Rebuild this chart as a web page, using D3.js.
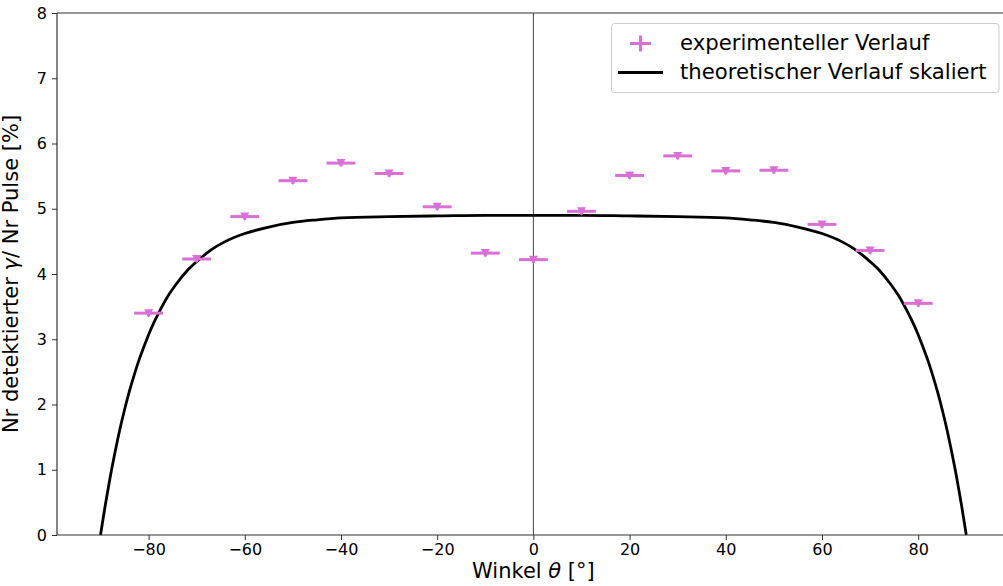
<!DOCTYPE html>
<html>
<head>
<meta charset="utf-8">
<script src="https://cdn.jsdelivr.net/npm/d3@7"></script>
<style>
  html, body { margin: 0; padding: 0; background: #fff; }
  svg { display: block; font-family: "DejaVu Sans", sans-serif; }
</style>
</head>
<body>
<svg id="chart" width="1003" height="586"></svg>
<script>
// Measured angles (degrees) and detection ratio (%)
const angles = [-80, -70, -60, -50, -40, -30, -20, -10, 0, 10, 20, 30, 40, 50, 60, 70, 80];
const ratios = [3.40, 4.23, 4.88, 5.43, 5.70, 5.54, 5.03, 4.32, 4.22, 4.96, 5.51, 5.81, 5.58, 5.59, 4.76, 4.36, 3.55];
const angleErr = [3, 3, 3, 3, 3, 3, 3, 3, 3, 3, 3, 3, 3, 3, 3, 3, 3];
const ratioErr = [0.05, 0.05, 0.05, 0.05, 0.05, 0.05, 0.05, 0.05, 0.05, 0.05, 0.05, 0.05, 0.05, 0.05, 0.05, 0.05, 0.05];

// Scaled theoretical curve, sampled along the angle axis
const curveAngles = [-90, -89, -88, -87, -86, -85, -84, -83, -82, -81, -80, -79, -78, -76, -74, -72, -70, -67, -64, -60, -55, -50, -45, -40, -30, -20, -10, 0,
                     10, 20, 30, 40, 45, 50, 55, 60, 64, 67, 70, 72, 74, 76, 78, 79, 80, 81, 82, 83, 84, 85, 86, 87, 88, 89, 90];
const curveValues = [0, 0.46, 0.88, 1.26, 1.61, 1.92, 2.20, 2.45, 2.68, 2.88, 3.07, 3.24, 3.39, 3.66, 3.87, 4.05, 4.19, 4.37, 4.50, 4.62, 4.72, 4.79, 4.83, 4.86, 4.88, 4.89, 4.90, 4.90,
                     4.90, 4.89, 4.88, 4.86, 4.83, 4.79, 4.72, 4.62, 4.50, 4.37, 4.19, 4.05, 3.87, 3.66, 3.39, 3.24, 3.07, 2.88, 2.68, 2.45, 2.20, 1.92, 1.61, 1.26, 0.88, 0.46, 0];

const xTicks = [-80, -60, -40, -20, 0, 20, 40, 60, 80];
const yTicks = [0, 1, 2, 3, 4, 5, 6, 7, 8];

const legendLabels = ["experimenteller Verlauf", "theoretischer Verlauf skaliert"];

const color = "orchid";
const plotLeft = 57, plotTop = 13, plotBottom = 535;

const svg = d3.select("#chart");
const x = d3.scaleLinear().domain([-99, 99]).range([plotLeft + 0.2, plotLeft + 0.2 + 198 * 4.81]);
const y = d3.scaleLinear().domain([0, 8]).range([plotBottom, plotTop]);

// zero line
svg.append("line")
  .attr("x1", x(0)).attr("x2", x(0))
  .attr("y1", y(8)).attr("y2", y(0))
  .attr("stroke", "#444").attr("stroke-width", 1);

// theoretical curve
const line = d3.line()
  .x((d, i) => x(curveAngles[i]))
  .y(d => y(d))
  .curve(d3.curveMonotoneX);
svg.append("path")
  .datum(curveValues)
  .attr("d", line)
  .attr("fill", "none")
  .attr("stroke", "#000")
  .attr("stroke-width", 2.8)
  .attr("stroke-linejoin", "round");

// experimental points with error bars
const pts = svg.append("g");
angles.forEach((a, i) => {
  const g = pts.append("g");
  g.append("line")
    .attr("x1", x(a - angleErr[i])).attr("x2", x(a + angleErr[i]))
    .attr("y1", y(ratios[i])).attr("y2", y(ratios[i]))
    .attr("stroke", color).attr("stroke-width", 3);
  g.append("line")
    .attr("x1", x(a)).attr("x2", x(a))
    .attr("y1", y(ratios[i] - ratioErr[i])).attr("y2", y(ratios[i] + ratioErr[i]))
    .attr("stroke", color).attr("stroke-width", 3);
  const cx = x(a), cy = y(ratios[i]);
  g.append("path")
    .attr("d", `M${cx - 4.5},${cy - 4} L${cx + 4.5},${cy - 4} L${cx},${cy + 4.5} Z`)
    .attr("fill", color);
});

// axes
const xAxis = d3.axisBottom(x).tickValues(xTicks).tickSize(5).tickPadding(4);
const yAxis = d3.axisLeft(y).tickValues(yTicks).tickSize(5).tickPadding(5);

const gx = svg.append("g").attr("transform", `translate(0,${plotBottom})`).call(xAxis);
const gy = svg.append("g").attr("transform", `translate(${plotLeft},0)`).call(yAxis);
[gx, gy].forEach(g => {
  g.select(".domain").remove();
  g.selectAll("line").attr("stroke", "#333").attr("stroke-width", 1);
  g.selectAll("text").attr("font-family", "DejaVu Sans").attr("font-size", 16).attr("fill", "#000");
});

// spines
svg.append("line").attr("x1", plotLeft).attr("x2", 1003).attr("y1", plotBottom).attr("y2", plotBottom).attr("stroke", "#333").attr("stroke-width", 1.2);
svg.append("line").attr("x1", plotLeft).attr("x2", 1003).attr("y1", plotTop).attr("y2", plotTop).attr("stroke", "#333").attr("stroke-width", 1.2);
svg.append("line").attr("x1", plotLeft).attr("x2", plotLeft).attr("y1", plotTop).attr("y2", plotBottom).attr("stroke", "#333").attr("stroke-width", 1.2);

// axis titles
const xt = svg.append("text")
  .attr("x", x(0)).attr("y", 578)
  .attr("text-anchor", "middle")
  .attr("font-size", 21).attr("fill", "#000");
xt.append("tspan").text("Winkel ");
xt.append("tspan").attr("font-style", "italic").text("θ");
xt.append("tspan").text(" [°]");

const yt = svg.append("text")
  .attr("transform", `translate(18,${(plotTop + plotBottom) / 2}) rotate(-90)`)
  .attr("text-anchor", "middle")
  .attr("font-size", 21).attr("fill", "#000");
yt.append("tspan").text("Nr detektierter ");
yt.append("tspan").attr("font-style", "italic").text("γ");
yt.append("tspan").text("/ Nr Pulse [%]");

// legend
const lg = svg.append("g");
lg.append("rect")
  .attr("x", 611.5).attr("y", 23.5).attr("width", 387.5).attr("height", 69)
  .attr("rx", 3).attr("fill", "#fff").attr("fill-opacity", 0.8)
  .attr("stroke", "#ccc").attr("stroke-width", 1);
lg.append("line").attr("x1", 630).attr("x2", 651).attr("y1", 43.5).attr("y2", 43.5).attr("stroke", color).attr("stroke-width", 3);
lg.append("line").attr("x1", 640.5).attr("x2", 640.5).attr("y1", 35.5).attr("y2", 51.5).attr("stroke", color).attr("stroke-width", 3);
lg.append("line").attr("x1", 618).attr("x2", 663).attr("y1", 72.5).attr("y2", 72.5).attr("stroke", "#000").attr("stroke-width", 2.8);
lg.selectAll("text.leg").data(legendLabels).enter().append("text")
  .attr("class", "leg")
  .attr("x", 680).attr("y", (d, i) => 50 + i * 29)
  .attr("font-size", 21.2).attr("fill", "#000")
  .text(d => d);
</script>
</body>
</html>
